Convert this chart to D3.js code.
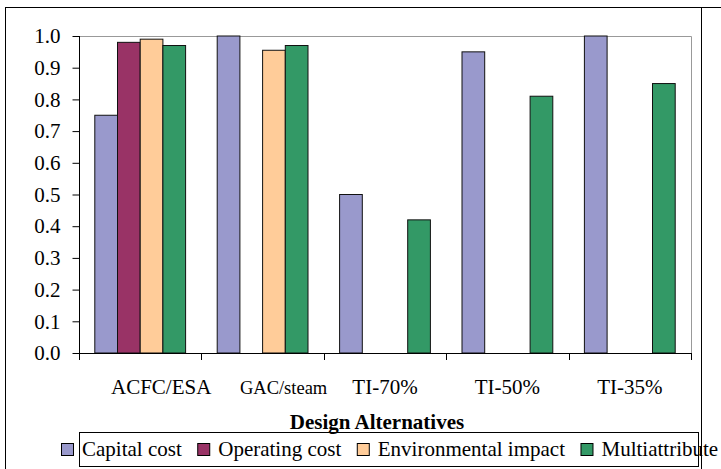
<!DOCTYPE html>
<html>
<head>
<meta charset="utf-8">
<script src="https://cdn.jsdelivr.net/npm/d3@7"></script>
<style>
  html, body { margin: 0; padding: 0; background: #fff; }
  svg { display: block; }
  text { font-family: "Liberation Serif", "Times New Roman", serif; fill: #000; }
</style>
</head>
<body>
<svg id="chart" width="721" height="469"></svg>
<script>
// Normalised scores of each design alternative
const categories = ["ACFC/ESA", "GAC/steam", "TI-70%", "TI-50%", "TI-35%"];
const seriesNames = ["Capital cost", "Operating cost", "Environmental impact", "Multiattribute"];
const capitalCost    = [0.75, 1.00, 0.50, 0.95, 1.00];
const operatingCost  = [0.98, null, null, null, null];
const environmental  = [0.99, 0.955, null, null, null];
const multiattribute = [0.97, 0.97, 0.42, 0.81, 0.85];
const yTicks = [0, 0.1, 0.2, 0.3, 0.4, 0.5, 0.6, 0.7, 0.8, 0.9, 1.0];
const colors = ["#9999CC", "#993366", "#FFCC99", "#339966"];

const seriesValues = [capitalCost, operatingCost, environmental, multiattribute];

const svg = d3.select("#chart");
const plot = { left: 79, top: 36, right: 691, bottom: 353 };

// Outer frame
svg.append("line").attr("x1", 5).attr("x2", 721).attr("y1", 7.5).attr("y2", 7.5)
  .attr("stroke", "#000").attr("stroke-width", 1);
svg.append("line").attr("x1", 5.5).attr("x2", 5.5).attr("y1", 7).attr("y2", 469)
  .attr("stroke", "#000").attr("stroke-width", 1);
svg.append("line").attr("x1", 701.5).attr("x2", 701.5).attr("y1", 7).attr("y2", 469)
  .attr("stroke", "#000").attr("stroke-width", 1);

const x0 = d3.scaleBand().domain(categories).range([plot.left, plot.right]).paddingInner(0).paddingOuter(0);
const innerPad = (x0.bandwidth() - 4 * 22.7) / 2;
const x1 = d3.scaleBand().domain(seriesNames).range([innerPad, x0.bandwidth() - innerPad]).padding(0);
const y = d3.scaleLinear().domain([0, 1]).range([plot.bottom, plot.top]);

// Plot-area border (top and right in grey)
svg.append("path")
  .attr("d", `M${plot.left},${plot.top + 0.5}H${plot.right + 0.5}V${plot.bottom}`)
  .attr("fill", "none").attr("stroke", "#999").attr("stroke-width", 1);

// Bars
const groups = svg.append("g").selectAll("g")
  .data(categories)
  .join("g")
  .attr("transform", d => `translate(${x0(d)},0)`);

groups.selectAll("rect")
  .data((c, i) => seriesNames.map((s, k) => ({ s, k, v: seriesValues[k][i] })).filter(d => d.v != null))
  .join("rect")
  .attr("x", d => x1(d.s))
  .attr("width", x1.bandwidth())
  .attr("y", d => y(d.v))
  .attr("height", d => y(0) - y(d.v))
  .attr("fill", d => colors[d.k])
  .attr("stroke", "#111")
  .attr("stroke-width", 1);

// Y axis
const yAxis = svg.append("g")
  .attr("transform", `translate(${plot.left + 0.5},0)`)
  .call(d3.axisLeft(y).tickValues(yTicks).tickFormat(d3.format(".1f")).tickSize(7).tickPadding(12));
yAxis.select(".domain").attr("d", `M0,${plot.top}V${plot.bottom + 7}`).attr("stroke", "#000");
yAxis.selectAll(".tick line").attr("stroke", "#000");
yAxis.selectAll(".tick text").attr("font-size", 21).attr("dy", "0.32em")
  .style("font-family", "'Liberation Serif', 'Times New Roman', serif");

// X axis line and boundary ticks
const boundaries = categories.map(c => x0(c)).concat([plot.right]);
svg.append("line").attr("x1", plot.left).attr("x2", plot.right + 1)
  .attr("y1", plot.bottom + 0.5).attr("y2", plot.bottom + 0.5).attr("stroke", "#000");
svg.append("g").selectAll("line").data(boundaries).join("line")
  .attr("x1", d => Math.round(d) + 0.5).attr("x2", d => Math.round(d) + 0.5)
  .attr("y1", plot.bottom).attr("y2", plot.bottom + 7)
  .attr("stroke", "#000");

// Category labels
const labelShift = { "ACFC/ESA": 21, "GAC/steam": 21 };
const labelSize = { "GAC/steam": 18.5 };
svg.append("g").selectAll("text").data(categories).join("text")
  .attr("x", d => x0(d) + x0.bandwidth() / 2 + (labelShift[d] || 0))
  .attr("y", 394)
  .attr("text-anchor", "middle")
  .attr("font-size", d => labelSize[d] || 21)
  .text(d => d);

// Axis title
svg.append("text")
  .attr("x", 377).attr("y", 429)
  .attr("text-anchor", "middle")
  .attr("font-size", 21).attr("font-weight", "bold")
  .text("Design Alternatives");

// Legend box
svg.append("rect")
  .attr("x", 79.5).attr("y", 432.5).attr("width", 619).attr("height", 34)
  .attr("fill", "none").attr("stroke", "#000");

// Legend items laid out left to right
const legend = svg.append("g");
let lx = 61;
seriesNames.forEach((name, k) => {
  legend.append("rect")
    .attr("x", lx + 0.5).attr("y", 443.5).attr("width", 12).attr("height", 12)
    .attr("fill", colors[k]).attr("stroke", "#000");
  const t = legend.append("text")
    .attr("x", lx + 21).attr("y", 456)
    .attr("font-size", 21)
    .text(name);
  lx = lx + 21 + t.node().getComputedTextLength() + 15.5;
});
</script>
</body>
</html>
